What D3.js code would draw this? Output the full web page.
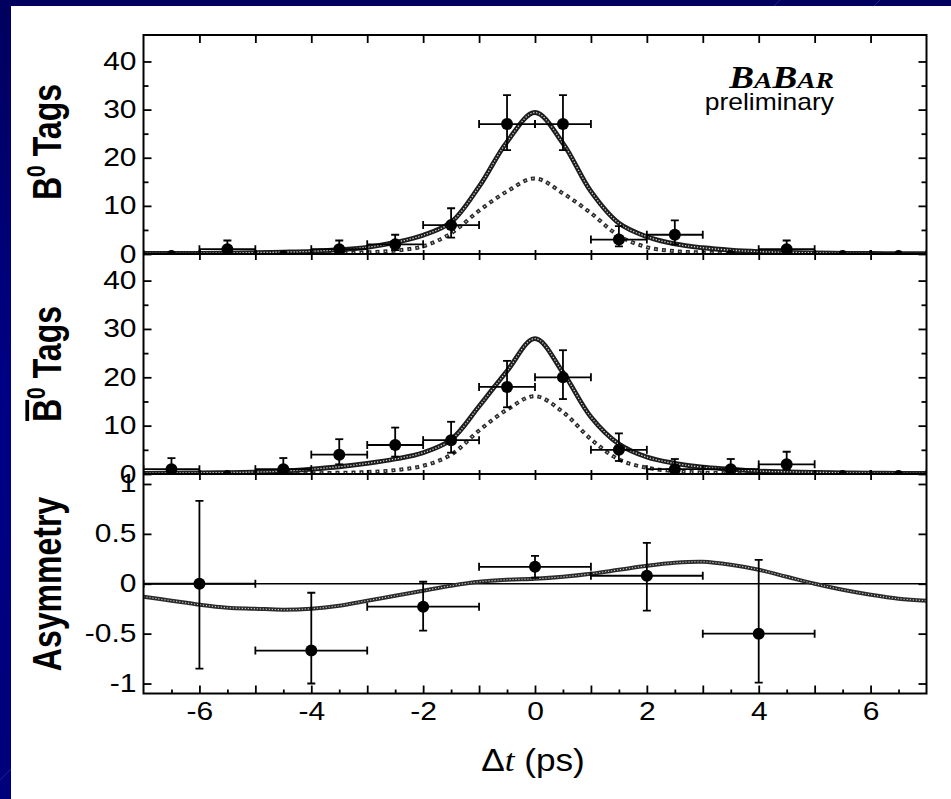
<!DOCTYPE html>
<html>
<head>
<meta charset="utf-8">
<script src="https://cdn.jsdelivr.net/npm/d3@7"></script>
<style>
  html, body { margin: 0; padding: 0; background: #00006e; }
  svg { display: block; }
</style>
</head>
<body>
<svg id="chart" width="951" height="799"></svg>
<script>
// ---- Δt bins (ps), 1 ps wide ----
const binCenters   = [-6.5, -5.5, -4.5, -3.5, -2.5, -1.5, -0.5, 0.5, 1.5, 2.5, 3.5, 4.5, 5.5, 6.5];
const b0Counts     = [0, 1, 0, 1, 2, 6, 27, 27, 3, 4, 0, 1, 0, 0];
const b0Low        = [0, 0.3, 0, 0.3, 0.8, 3.4, 21.6, 21.6, 1.6, 2.0, 0, 0.3, 0, 0];
const b0High       = [0, 2.8, 0, 2.8, 4.0, 9.5, 33.0, 33.0, 5.8, 7.0, 0, 2.8, 0, 0];
const b0barCounts  = [1, 0, 1, 4, 6, 7, 18, 20, 5, 1, 1, 2, 0, 0];
const b0barLow     = [0.3, 0, 0.3, 2.0, 3.6, 4.4, 13.8, 15.5, 2.7, 0.3, 0.3, 0.9, 0, 0];
const b0barHigh    = [3.3, 0, 3.3, 7.2, 9.6, 10.8, 23.4, 25.6, 8.4, 3.1, 3.1, 4.6, 0, 0];

// ---- asymmetry, 2 ps bins ----
const asymCenters  = [-6, -4, -2, 0, 2, 4];
const asymValues   = [0, -0.67, -0.23, 0.17, 0.08, -0.5];
const asymLow      = [-0.85, -1.0, -0.47, 0.06, -0.27, -0.99];
const asymHigh     = [0.83, -0.09, 0.02, 0.28, 0.41, 0.24];

// ---- fit curves, sampled every 0.5 ps ----
const fitT     = [-7, -6.5, -6, -5.5, -5, -4.5, -4, -3.5, -3, -2.5, -2, -1.5, -1, -0.5, 0,
                  0.5, 1, 1.5, 2, 2.5, 3, 3.5, 4, 4.5, 5, 5.5, 6, 6.5, 7];
const fitB0    = [0.1, 0.12, 0.15, 0.2, 0.3, 0.4, 0.55, 0.9, 1.4, 2.4, 3.9, 6.6, 14.0, 23.3, 29.4,
                  23.0, 13.0, 6.4, 3.6, 2.1, 1.3, 0.8, 0.5, 0.35, 0.25, 0.15, 0.1, 0.08, 0.05];
const sigB0    = [0, 0, 0, 0, 0, 0.05, 0.1, 0.2, 0.35, 0.7, 1.6, 4.3, 9.0, 13.0, 15.7,
                  12.6, 8.5, 3.8, 1.4, 0.6, 0.3, 0.15, 0.1, 0.05, 0, 0, 0, 0, 0];
const fitB0bar = [0.15, 0.2, 0.25, 0.3, 0.4, 0.6, 1.0, 1.5, 2.2, 3.1, 4.4, 7.1, 14.0, 21.3, 28.0,
                  21.0, 11.8, 6.2, 3.5, 2.2, 1.4, 1.0, 0.6, 0.45, 0.35, 0.25, 0.2, 0.15, 0.1];
const sigB0bar = [0, 0, 0, 0, 0.05, 0.1, 0.15, 0.25, 0.4, 0.8, 1.7, 4.0, 9.0, 13.3, 16.1,
                  12.8, 7.2, 3.0, 1.3, 0.6, 0.3, 0.15, 0.1, 0.05, 0, 0, 0, 0, 0];
const fitAsym  = [-0.13, -0.17, -0.21, -0.24, -0.25, -0.26, -0.25, -0.22, -0.17, -0.12, -0.07, -0.02, 0.02, 0.04, 0.05,
                  0.07, 0.10, 0.14, 0.18, 0.21, 0.22, 0.19, 0.14, 0.07, 0.0, -0.06, -0.11, -0.15, -0.17];

// ---- ticks ----
const xTicks        = [-6, -5, -4, -3, -2, -1, 0, 1, 2, 3, 4, 5, 6];
const xMinorTicks   = [-6.5, -5.5, -4.5, -3.5, -2.5, -1.5, -0.5, 0.5, 1.5, 2.5, 3.5, 4.5, 5.5, 6.5];
const countTicks    = [0, 10, 20, 30, 40];
const countMinor    = [5, 15, 25, 35];
const asymTicks     = [-1, -0.5, 0, 0.5, 1];

const W = 951, H = 799;
const svg = d3.select('#chart');
const FONT = 'Liberation Sans, Arial, Helvetica, sans-serif';
const STRETCH = 1.2;

// ---- slide backdrop ----
const defs = svg.append('defs');
const grad = defs.append('linearGradient').attr('id', 'bg')
  .attr('x1', 0).attr('y1', 0).attr('x2', 0).attr('y2', 1);
grad.append('stop').attr('offset', 0).attr('stop-color', '#00005e');
grad.append('stop').attr('offset', 0.5).attr('stop-color', '#000086');
grad.append('stop').attr('offset', 1).attr('stop-color', '#00007a');
svg.append('rect').attr('width', W).attr('height', H).attr('fill', 'url(#bg)');
const streaks = svg.append('g').attr('stroke', '#3a4cc0').attr('stroke-opacity', 0.45).attr('stroke-width', 1);
[-40, 60, 180, 300, 420, 560, 700, 840].forEach(s => {
  streaks.append('line').attr('x1', s).attr('y1', 820).attr('x2', s + 820).attr('y2', 0);
});
svg.append('rect').attr('x', 11).attr('y', 6).attr('width', W - 11).attr('height', H - 6).attr('fill', '#ffffff');

// ---- scales ----
const x = d3.scaleLinear().domain([-7, 7]).range([143.5, 926.5]);
const yTop = d3.scaleLinear().domain([0, 45.5]).range([254, 35]);
const yMid = d3.scaleLinear().domain([0, 45.5]).range([474, 254]);
const yBot = d3.scaleLinear().domain([-1.1, 1.1]).range([693.5, 474]);

const plot = svg.append('g');

function clipFor(id, y) {
  const r = y.range();
  defs.append('clipPath').attr('id', id).append('rect')
    .attr('x', x.range()[0]).attr('y', Math.min(r[0], r[1]))
    .attr('width', x.range()[1] - x.range()[0]).attr('height', Math.abs(r[0] - r[1]));
  return 'url(#' + id + ')';
}

// textured fit line (solid) and dotted component line
function fitLine(g, values, y, kind) {
  const line = d3.line()
    .x((d, i) => x(fitT[i]))
    .y(d => y(d))
    .curve(d3.curveCatmullRom.alpha(0.5));
  const d = line(values);
  if (kind === 'fit') {
    g.append('path').attr('d', d).attr('fill', 'none')
      .attr('stroke', '#1c1c1c').attr('stroke-width', 4.8).attr('stroke-linejoin', 'round');
    g.append('path').attr('d', d).attr('fill', 'none')
      .attr('stroke', '#d0d0d0').attr('stroke-width', 1.3).attr('stroke-dasharray', '1.3,1.7');
  } else {
    g.append('path').attr('d', d).attr('fill', 'none')
      .attr('stroke', '#2a2a2a').attr('stroke-width', 4).attr('stroke-dasharray', '4,4');
    g.append('path').attr('d', d).attr('fill', 'none')
      .attr('stroke', '#e0e0e0').attr('stroke-width', 1.2).attr('stroke-dasharray', '1.2,6.8')
      .attr('stroke-dashoffset', -1.4);
  }
}

function errorPoints(g, centers, vals, lo, hi, halfWidth, y) {
  const cap = 4;
  centers.forEach((c, i) => {
    const cx = x(c), cy = y(vals[i]);
    const x0 = x(c - halfWidth), x1 = x(c + halfWidth);
    const e = g.append('g').attr('stroke', '#000').attr('stroke-width', 1.8).attr('fill', 'none');
    e.append('line').attr('x1', x0).attr('x2', x1).attr('y1', cy).attr('y2', cy);
    e.append('line').attr('x1', x0).attr('x2', x0).attr('y1', cy - cap).attr('y2', cy + cap);
    e.append('line').attr('x1', x1).attr('x2', x1).attr('y1', cy - cap).attr('y2', cy + cap);
    if (hi[i] !== lo[i]) {
      const yh = y(hi[i]), yl = y(lo[i]);
      e.append('line').attr('x1', cx).attr('x2', cx).attr('y1', yh).attr('y2', yl);
      e.append('line').attr('x1', cx - cap).attr('x2', cx + cap).attr('y1', yh).attr('y2', yh);
      e.append('line').attr('x1', cx - cap).attr('x2', cx + cap).attr('y1', yl).attr('y2', yl);
    }
    g.append('circle').attr('cx', cx).attr('cy', cy)
      .attr('r', vals[i] === 0 && y !== yBot ? 4 : 6).attr('fill', '#000');
  });
}

// ---- count panels ----
function countPanel(y, id, counts, lo, hi, fit, sig) {
  const g = plot.append('g').attr('clip-path', clipFor(id, y));
  fitLine(g, sig, y, 'sig');
  fitLine(g, fit, y, 'fit');
  errorPoints(g, binCenters, counts, lo, hi, 0.5, y);
}
countPanel(yTop, 'clipTop', b0Counts, b0Low, b0High, fitB0, sigB0);
countPanel(yMid, 'clipMid', b0barCounts, b0barLow, b0barHigh, fitB0bar, sigB0bar);

// ---- asymmetry panel ----
{
  const g = plot.append('g').attr('clip-path', clipFor('clipBot', yBot));
  g.append('line').attr('x1', x(-7)).attr('x2', x(7)).attr('y1', yBot(0)).attr('y2', yBot(0))
    .attr('stroke', '#000').attr('stroke-width', 1.6);
  const line = d3.line().x((d, i) => x(fitT[i])).y(d => yBot(d)).curve(d3.curveCatmullRom.alpha(0.5));
  g.append('path').attr('d', line(fitAsym)).attr('fill', 'none')
    .attr('stroke', '#2a2a2a').attr('stroke-width', 4);
  g.append('path').attr('d', line(fitAsym)).attr('fill', 'none')
    .attr('stroke', '#cfcfcf').attr('stroke-width', 1.1).attr('stroke-dasharray', '1.2,1.8');
  errorPoints(g, asymCenters, asymValues, asymLow, asymHigh, 1, yBot);
}

// ---- axes ----
function styleAxis(sel) {
  sel.select('.domain').remove();
  sel.selectAll('.tick line').attr('stroke', '#000').attr('stroke-width', 1.8);
  sel.selectAll('text').attr('font-family', FONT).attr('font-size', 25).attr('fill', '#000');
  return sel;
}
function stretchText(sel) {
  sel.selectAll('text').each(function () {
    const t = d3.select(this);
    const tx = +t.attr('x') || 0, ty = +t.attr('y') || 0;
    t.attr('x', 0).attr('y', 0).attr('transform', `translate(${tx},${ty}) scale(${STRETCH},1)`);
  });
}

const axes = svg.append('g');
[[yTop, countTicks, countMinor], [yMid, countTicks, countMinor], [yBot, asymTicks, []]].forEach(([y, ticks, minor], k) => {
  const left = axes.append('g').attr('transform', `translate(${x.range()[0]},0)`)
    .call(d3.axisLeft(y).tickValues(ticks).tickSize(-8).tickPadding(7).tickFormat(d => String(d)));
  styleAxis(left); stretchText(left);
  const right = axes.append('g').attr('transform', `translate(${x.range()[1]},0)`)
    .call(d3.axisRight(y).tickValues(ticks).tickSize(-8).tickFormat(''));
  styleAxis(right);
  if (minor.length) {
    styleAxis(axes.append('g').attr('transform', `translate(${x.range()[0]},0)`)
      .call(d3.axisLeft(y).tickValues(minor).tickSize(-5).tickFormat('')));
    styleAxis(axes.append('g').attr('transform', `translate(${x.range()[1]},0)`)
      .call(d3.axisRight(y).tickValues(minor).tickSize(-5).tickFormat('')));
  }
  // top edge ticks point down into the panel
  styleAxis(axes.append('g').attr('transform', `translate(0,${y.range()[1]})`)
    .call(d3.axisTop(x).tickValues(xTicks).tickSize(k === 0 ? -8 : -6).tickFormat('')));
  if (k < 2) {
    styleAxis(axes.append('g').attr('transform', `translate(0,${y.range()[0]})`)
      .call(d3.axisBottom(x).tickValues(xTicks).tickSize(-4).tickFormat('')));
  }
});

// bottom axis with labels
const xAxis = axes.append('g').attr('transform', `translate(0,${yBot.range()[0]})`)
  .call(d3.axisBottom(x).tickValues(xTicks).tickSize(-8).tickPadding(9)
    .tickFormat(d => (d % 2 === 0 ? String(d) : '')));
styleAxis(xAxis); stretchText(xAxis);
styleAxis(axes.append('g').attr('transform', `translate(0,${yBot.range()[0]})`)
  .call(d3.axisBottom(x).tickValues(xMinorTicks).tickSize(-4).tickFormat('')));

// frame
const fr = axes.append('g').attr('fill', 'none').attr('stroke', '#000').attr('stroke-width', 2);
fr.append('rect').attr('x', x.range()[0]).attr('y', yTop.range()[1])
  .attr('width', x.range()[1] - x.range()[0]).attr('height', yBot.range()[0] - yTop.range()[1]);
fr.append('line').attr('x1', x.range()[0]).attr('x2', x.range()[1]).attr('y1', yTop.range()[0]).attr('y2', yTop.range()[0]);
fr.append('line').attr('x1', x.range()[0]).attr('x2', x.range()[1]).attr('y1', yMid.range()[0]).attr('y2', yMid.range()[0]);

// ---- axis titles ----
function yTitle(cy, parts, barOverB) {
  const g = svg.append('g').attr('transform', `translate(61,${cy}) scale(1.25,1) rotate(-90)`);
  const t = g.append('text').attr('text-anchor', 'middle').attr('font-family', FONT)
    .attr('font-weight', 'bold').attr('font-size', 32).attr('fill', '#000');
  parts.forEach(p => {
    const s = t.append('tspan').text(p.text);
    if (p.sup) s.attr('font-size', 21).attr('dy', -13);
    if (p.down) s.attr('dy', 13);
  });
  if (barOverB) {
    const ext = t.node().getExtentOfChar(0);
    g.append('line').attr('x1', ext.x + 1).attr('x2', ext.x + ext.width - 1)
      .attr('y1', -27).attr('y2', -27).attr('stroke', '#000').attr('stroke-width', 3);
  }
}
yTitle(142, [{ text: 'B' }, { text: '0', sup: true }, { text: ' Tags', down: true }], false);
yTitle(364, [{ text: 'B' }, { text: '0', sup: true }, { text: ' Tags', down: true }], true);
yTitle(584, [{ text: 'Asymmetry' }], false);

// x title
const xt = svg.append('text').attr('transform', `translate(533,771) scale(1.1,1)`)
  .attr('text-anchor', 'middle').attr('font-family', FONT).attr('font-size', 32).attr('fill', '#000');
xt.append('tspan').text('Δ');
xt.append('tspan').attr('font-style', 'italic').attr('font-family', 'Liberation Serif, Times New Roman, serif').text('t');
xt.append('tspan').text(' (ps)');

// ---- experiment tag ----
const tag = svg.append('text').attr('transform', 'translate(834,88) scale(1.2,1)')
  .attr('text-anchor', 'end').attr('font-family', 'Liberation Serif, Times New Roman, serif')
  .attr('font-style', 'italic').attr('font-weight', 'bold').attr('fill', '#000')
  .attr('font-size', 31);
tag.append('tspan').text('B');
tag.append('tspan').attr('font-size', 23).text('A');
tag.append('tspan').text('B');
tag.append('tspan').attr('font-size', 23).text('AR');
svg.append('text').attr('transform', 'translate(834,110) scale(1.15,1)')
  .attr('text-anchor', 'end').attr('font-family', FONT).attr('font-size', 23).attr('fill', '#000')
  .text('preliminary');
</script>
</body>
</html>
